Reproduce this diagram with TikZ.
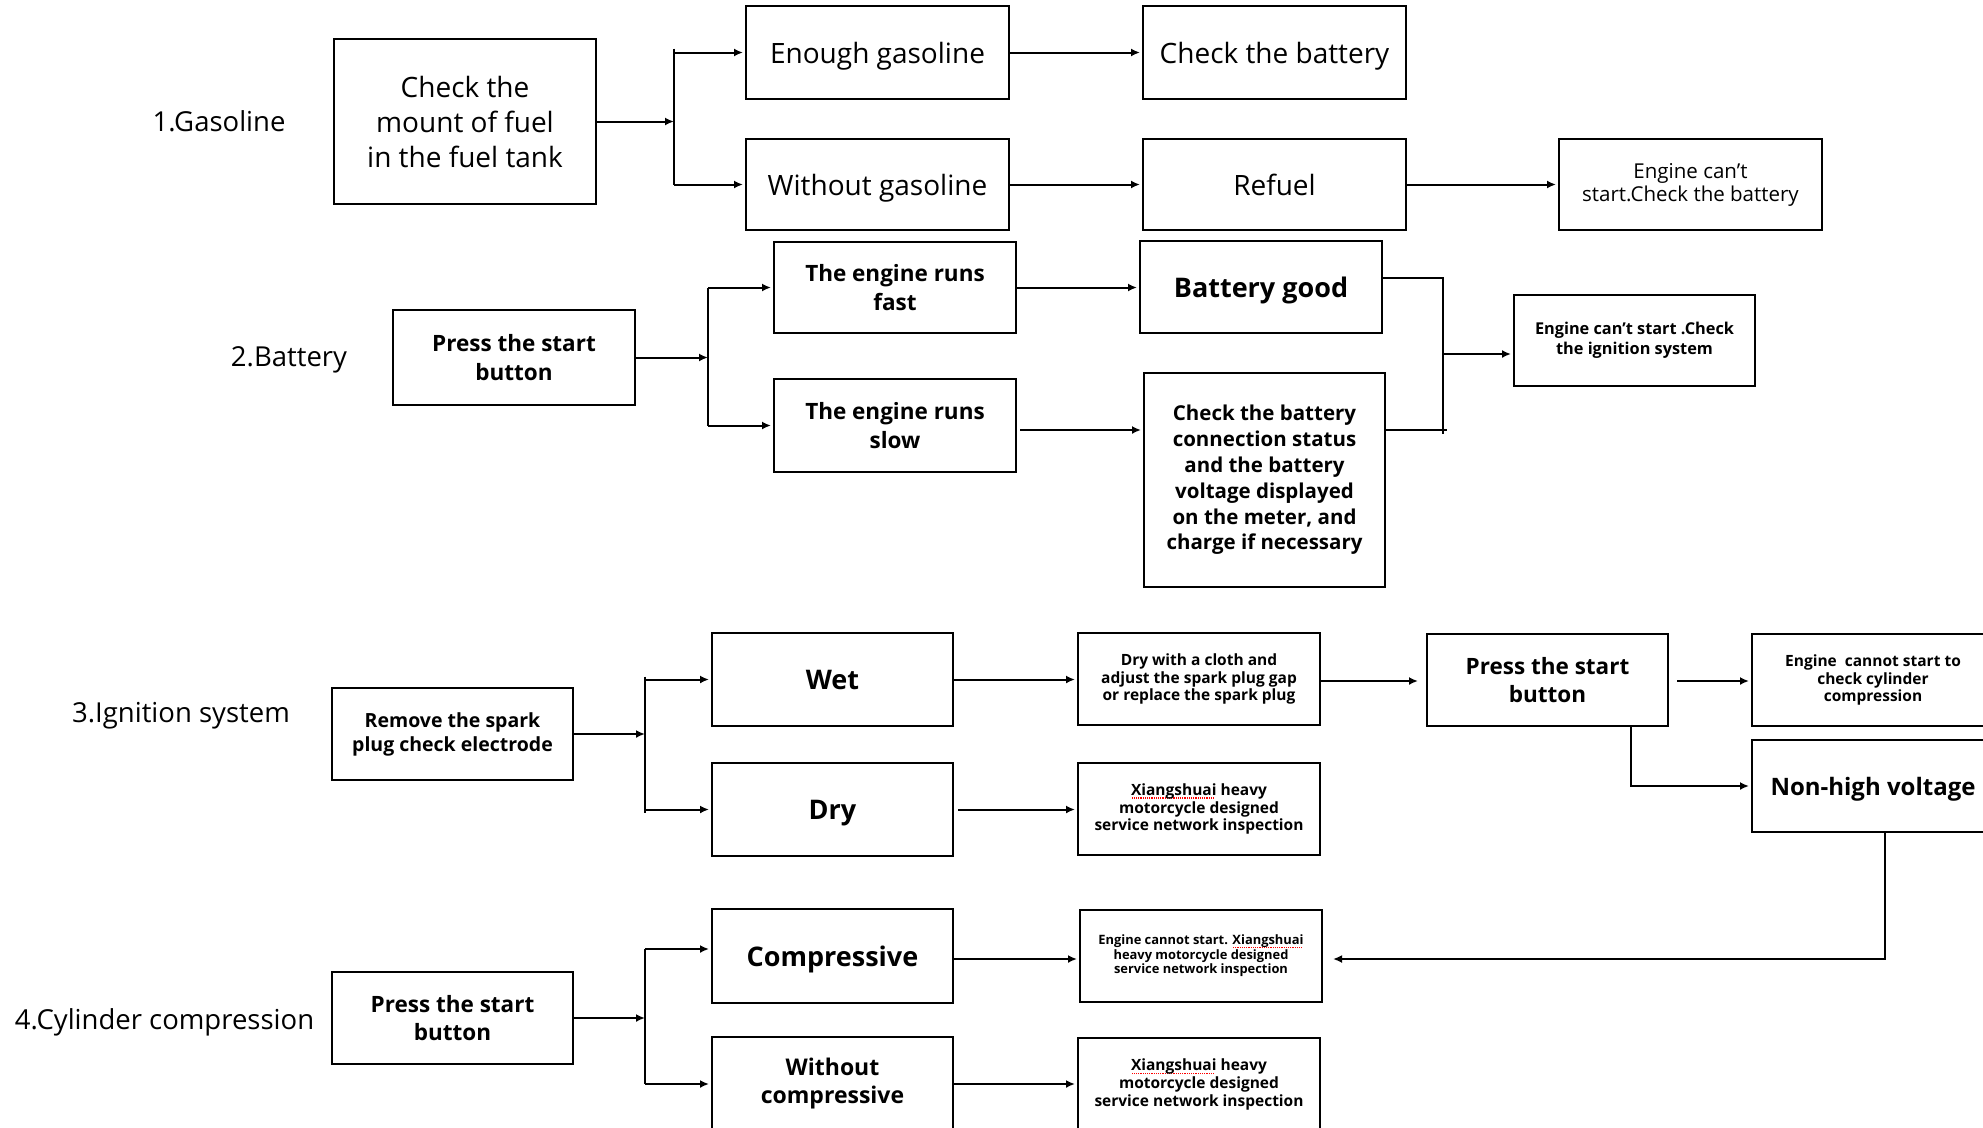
\documentclass[tikz,border=0pt]{standalone}
\usepackage{fontspec}
\setmainfont{Open Sans}
\usetikzlibrary{arrows.meta}
\newsavebox\spellbox
\newcommand\spellmark[1]{\sbox\spellbox{#1}\rlap{\raisebox{-3.2pt}{\textcolor{red}{\hbox to \wd\spellbox{\leaders\hbox to 2.2pt{\hss\rule{1.1pt}{1.1pt}\hss}\hfill}}}}\usebox\spellbox}
\newcommand\fsz[2]{\fontsize{#1}{#2}\selectfont}
\begin{document}
\begin{tikzpicture}[x=1pt,y=-1pt,
  box/.style={draw, line width=2pt, inner sep=0pt, align=center, minimum width=242pt, minimum height=92pt},
  one/.style={text depth=0pt},
  lab/.style={inner sep=0pt, font=\fsz{27.5}{33}},
  rg/.style={font=\fsz{28}{35}},
  rgs/.style={font=\fsz{20.5}{23}},
  bA/.style={font=\bfseries\fsz{22.5}{28.5}},
  bB/.style={font=\bfseries\fsz{27}{32}},
  bC/.style={font=\bfseries\fsz{20.5}{25.8}},
  bD/.style={font=\bfseries\fsz{16.3}{20}},
  bE/.style={font=\bfseries\fsz{19.5}{24}},
  bF/.style={font=\bfseries\fsz{15.5}{17.7}},
  bG/.style={font=\bfseries\fsz{12.9}{14.5}},
  ln/.style={line width=2pt},
  arr/.style={line width=2pt, -{Latex[length=9pt,width=8pt]}, shorten >=2pt},
  arrz/.style={line width=2pt, -{Latex[length=9pt,width=8pt]}}]
\fill[white] (0,0) rectangle (1983,1127);
\useasboundingbox (0,0) rectangle (1983,1127);

% labels
\node[lab] (l1) at (219,121) {1.Gasoline};
\node[lab] (l2) at (289,360) {2.Battery};
\node[lab] (l3) at (181,716) {3.Ignition system};
\node[lab] (l4) at (164.5,1022) {4.Cylinder compression};

% row 1
\node[box,rg,minimum width=262pt,minimum height=165pt] (fuel) at (465,121.5) {Check the\\mount of fuel\\in the fuel tank};
\node[box,rg,one,minimum width=263pt,minimum height=93pt] (enough) at (877.5,52.5) {Enough gasoline};
\node[box,rg,one,minimum width=263pt,minimum height=91pt] (without) at (877.5,184.5) {Without gasoline};
\node[box,rg,one,minimum width=263pt,minimum height=93pt] (chkbat) at (1274.5,52.5) {Check the battery};
\node[box,rg,one,minimum width=263pt,minimum height=91pt] (refuel) at (1274.5,184.5) {Refuel};
\node[box,rgs,minimum width=263pt,minimum height=91pt] (cant1) at (1690.5,184.5) {Engine can’t\\start.Check the battery};

\coordinate (j1) at (674,121.5);
\draw[arrz] (fuel.east) -- (j1);
\draw[ln] ([yshift=4pt]j1 |- enough.west) -- (j1 |- without.west);
\draw[arr] (j1 |- enough.west) -- (enough.west);
\draw[arr] (j1 |- without.west) -- (without.west);
\draw[arr] (enough.east) -- (chkbat.west);
\draw[arr] (without.east) -- (refuel.west);
\draw[arr] (refuel.east) -- (cant1.west);

% row 2
\node[box,bA,minimum width=242pt,minimum height=95pt] (press2) at (514,357.5) {Press the start\\button};
\node[box,bA,minimum width=242pt,minimum height=91pt] (fast) at (895,287.5) {The engine runs\\fast};
\node[box,bA,minimum width=242pt,minimum height=93pt] (slow) at (895,425.5) {The engine runs\\slow};
\node[box,bB,one,minimum width=242pt,minimum height=92pt] (good) at (1261,287) {Battery good};
\node[box,bC,minimum width=241pt,minimum height=214pt] (chkconn) at (1264.5,480) {Check the battery\\connection status\\and the battery\\voltage displayed\\on the meter, and\\charge if necessary};
\node[box,bD,minimum width=241pt,minimum height=91pt] (cant2) at (1634.5,340.5) {Engine can’t start .Check\\the ignition system};

\coordinate (j2) at (708,357.5);
\draw[arrz] (press2.east) -- (j2);
\draw[ln] (j2 |- fast.west) -- (j2 |- slow.west);
\draw[arr] (j2 |- fast.west) -- (fast.west);
\draw[arr] (j2 |- slow.west) -- (slow.west);
\draw[arr] (fast.east) -- (fast.east -| good.west);
\draw[arr] ([yshift=-4.5pt,xshift=3pt]slow.east) -- ([yshift=-4.5pt]slow.east -| chkconn.west);
\coordinate (m2) at (1443,354);
\coordinate (gA) at ([yshift=9pt]good.east);
\coordinate (cA) at ([yshift=50pt]chkconn.east);
\draw[ln] (gA) -- (gA -| m2) -- ([yshift=-4pt]cA -| m2);
\draw[ln] (cA) -- ([xshift=4pt]cA -| m2);
\draw[arr] (m2) -- (m2 -| cant2.west);

% row 3
\node[box,bE,minimum width=241pt,minimum height=92pt] (remove) at (452.5,734) {Remove the spark\\plug check electrode};
\node[box,bB,one,minimum width=241pt,minimum height=93pt] (wet) at (832.5,679.5) {Wet};
\node[box,bB,one,minimum width=241pt,minimum height=93pt] (dry) at (832.5,809.5) {Dry};
\node[box,bF,minimum width=242pt,minimum height=92pt] (cloth) at (1199,679) {Dry with a cloth and\\adjust the spark plug gap\\or replace the spark plug};
\node[box,bF,minimum width=242pt,minimum height=92pt] (xs1) at (1199,809) {\spellmark{Xiangshuai} heavy\\motorcycle designed\\service network inspection};
\node[box,bA,minimum width=241pt,minimum height=92pt] (press3) at (1547.5,680) {Press the start\\button};
\node[box,bF,minimum width=242pt,minimum height=92pt] (cant3) at (1873,680) {Engine~ cannot start to\\check cylinder\\compression};
\node[box,one,font=\bfseries\fsz{24}{28},minimum width=242pt,minimum height=92pt] (nhv) at (1873,786) {Non-high voltage};

\coordinate (j3) at (645,734);
\draw[arrz] (remove.east) -- (j3);
\draw[ln] ([yshift=3pt]j3 |- wet.west) -- ([yshift=-3pt]j3 |- dry.west);
\draw[arr] (j3 |- wet.west) -- (wet.west);
\draw[arr] (j3 |- dry.west) -- (dry.west);
\draw[arr] (wet.east) -- (wet.east -| cloth.west);
\draw[arr] ([xshift=4pt]dry.east) -- (dry.east -| xs1.west);
\draw[arr,shorten >=8pt] ([yshift=-2pt,xshift=-2pt]cloth.east) -- ([yshift=-2pt]cloth.east -| press3.west);
\draw[arr] ([xshift=8pt,yshift=-1pt]press3.east) -- ([yshift=-1pt]press3.east -| cant3.west);
\draw[arr] ([xshift=83.5pt]press3.south) |- (nhv.west);

% row 4
\node[box,bA,minimum width=241pt,minimum height=92pt] (press4) at (452.5,1018) {Press the start\\button};
\node[box,bB,one,minimum width=241pt,minimum height=94pt] (comp) at (832.5,956) {Compressive};
\node[box,font=\bfseries\fsz{23}{28},minimum width=241pt,minimum height=94pt] (wocomp) at (832.5,1084) {Without\\compressive};
\node[box,bG,minimum width=242pt,minimum height=92pt] (cant4) at (1201,956) {Engine cannot start. \spellmark{Xiangshuai}\\heavy motorcycle designed\\service network inspection};
\node[box,bF,minimum width=242pt,minimum height=93pt] (xs2) at (1199,1084.5) {\spellmark{Xiangshuai} heavy\\motorcycle designed\\service network inspection};

\draw[arr,shorten >=10pt] ([xshift=12pt]nhv.south) |- ([yshift=-3pt]cant4.east);

\coordinate (j4) at (645,1018);
\draw[arrz] (press4.east) -- (j4);
\draw[ln] ([yshift=7pt]j4 |- comp.west) -- (j4 |- wocomp.west);
\draw[arr] ([yshift=7pt]j4 |- comp.west) -- ([yshift=7pt]comp.west);
\draw[arr] (j4 |- wocomp.west) -- (wocomp.west);
\draw[arr] ([yshift=-3pt]comp.east) -- ([yshift=-3pt]comp.east -| cant4.west);
\draw[arr] (wocomp.east) -- (wocomp.east -| xs2.west);
\end{tikzpicture}
\end{document}
